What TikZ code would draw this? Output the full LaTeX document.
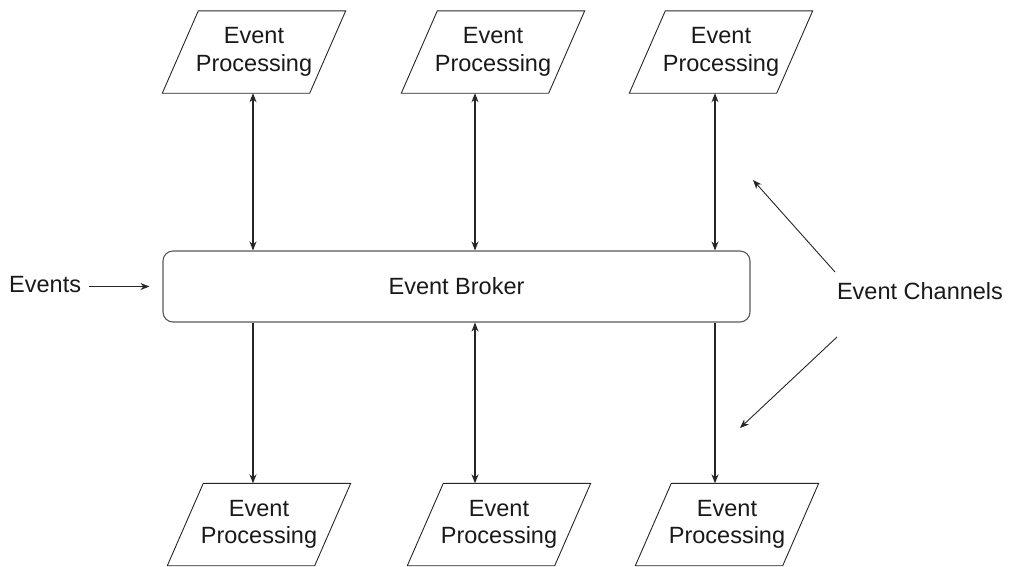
\documentclass[tikz,border=0pt]{standalone}
\usepackage{fontspec}
\setmainfont{Liberation Sans}
\usetikzlibrary{arrows.meta,calc}
\begin{document}
\begin{tikzpicture}[x=1pt,y=-1pt,
  txt/.style={font=\fontsize{23.5}{27.5}\selectfont, text=black!90},
  proc/.style={txt, align=center, inner sep=0pt, minimum width=183pt, minimum height=82pt},
  para/.style={draw=black!85, line width=0.9pt, line join=miter},
  conn/.style={draw=black!85, line width=1.1pt, -{Stealth[length=9pt,width=7pt]}},
  dconn/.style={conn, {Stealth[length=9pt,width=7pt]}-{Stealth[length=9pt,width=7pt]}},
  broker/.style={txt, draw=black!65, line width=1.1pt, rounded corners=10pt, minimum width=587pt, minimum height=71pt, inner sep=0pt}
]
\useasboundingbox (0,0) rectangle (1009,566);
% processing nodes
\node[proc] (t1) at (254,52) {Event\\Processing};
\node[proc] (t2) at (493,52) {Event\\Processing};
\node[proc] (t3) at (721,52) {Event\\Processing};
\node[proc] (b1) at (259,524.5) {Event\\Processing};
\node[proc] (b2) at (499,524.5) {Event\\Processing};
\node[proc] (b3) at (727,524.5) {Event\\Processing};
\foreach \n in {t1,t2,t3,b1,b2,b3}{
  \draw[para] ($(\n.north west)+(36,0)$) -- (\n.north east) -- ($(\n.south east)+(-36,0)$) -- (\n.south west) -- cycle;
}
% broker
\node[broker] (br) at (456.5,286.5) {Event Broker};
% events
\node[txt, anchor=west, inner sep=0pt] (ev) at (9,285) {Events};
\draw[conn, shorten <=8pt, shorten >=13pt] (ev.east |- br.west) -- (br.west);
% vertical connectors
\draw[dconn] ([xshift=-1pt]t1.south) -- ([xshift=-1pt]t1.south |- br.north);
\draw[dconn] ([xshift=-18pt]t2.south) -- ([xshift=-18pt]t2.south |- br.north);
\draw[dconn] ([xshift=-6pt]t3.south) -- ([xshift=-6pt]t3.south |- br.north);
\draw[conn] ([xshift=-6pt]b1.north |- br.south) -- ([xshift=-6pt]b1.north);
\draw[dconn] ([xshift=-24pt]b2.north |- br.south) -- ([xshift=-24pt]b2.north);
\draw[conn] ([xshift=-12pt]b3.north |- br.south) -- ([xshift=-12pt]b3.north);
% event channels
\node[txt, inner sep=0pt] (ch) at (920,291) {Event Channels};
\coordinate (up) at (753,180);
\coordinate (dn) at (740,428);
\coordinate (cu) at (835,272);
\coordinate (cd) at (837,337);
\draw[conn, line width=0.9pt] (cu) -- (up);
\draw[conn, line width=0.9pt] (cd) -- (dn);
\end{tikzpicture}
\end{document}
